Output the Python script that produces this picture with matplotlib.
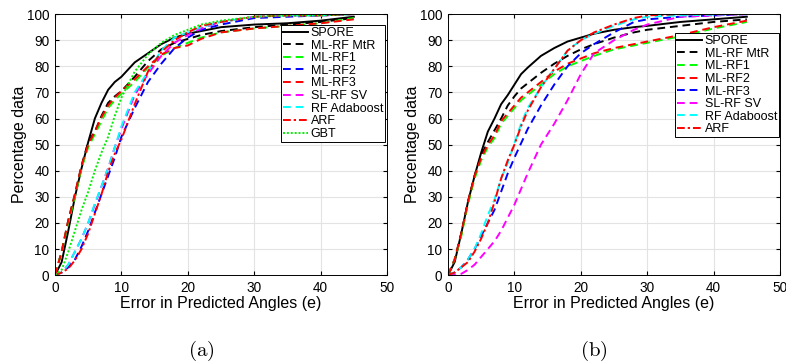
import matplotlib.pyplot as plt
import numpy as np

plt.rcParams['font.family'] = ['Liberation Sans', 'DejaVu Sans']
plt.rcParams['mathtext.fontset'] = 'cm'

# ---- panel (a) data ----
xa = [0, 1, 2, 3, 4, 5, 6, 7, 8, 9, 10, 12, 14, 16, 18, 20, 22, 25, 30, 35, 40, 45]
a_spore = [0, 5, 17, 30, 41, 51, 60, 66, 71, 74, 76, 81.5, 85, 88.5, 91, 92.5, 93.5, 95, 96, 96.5, 97.5, 99]
a_mtr = [0, 9, 21, 31, 42, 51, 55, 61, 66, 68.5, 70.5, 76, 82, 86.5, 89, 90.5, 92, 93.5, 95, 96, 97, 98.5]
a_rf1 = [0, 9, 20, 30, 41, 49, 54, 59, 64, 67, 69.5, 74, 79.5, 84, 87, 89, 91, 93, 94.5, 95.5, 96.5, 98.5]
a_rf2 = [0, 1, 3, 6, 11, 17, 24, 31, 38, 45, 53, 64, 74, 81, 87, 91, 94, 96, 98.5, 99, 99.5, 100]
a_rf3 = [0, 9, 21, 31, 42, 50, 55, 60.5, 65, 68, 70.5, 75, 80, 84.5, 87, 88, 90.5, 93, 94.5, 95.5, 96.5, 98]
a_sv = [0, 1, 4, 9, 14, 20, 27, 34, 41, 49, 56, 69, 77, 84, 89, 92, 94.5, 97, 99, 99.5, 99.5, 100]
a_ada = [0, 1, 4, 9, 14, 20, 27.5, 34, 41, 49, 57, 70, 78, 86, 91, 93, 95, 97, 99, 99.5, 99.5, 100]
a_arf = [0, 1, 2.5, 5.7, 10, 16, 23.5, 31, 39.5, 46.5, 52, 65.5, 78, 85.5, 90, 93, 95.5, 97, 99, 99.5, 99.5, 100]
a_gbt = [0, 2, 9, 17, 25, 32, 40, 47, 53, 61, 68, 78, 84.5, 89, 92, 94, 96, 97.5, 99, 99.5, 99.5, 100]

# ---- panel (b) data ----
xb = [0, 1, 2, 3, 4, 5, 6, 7, 8, 9, 10, 11, 12, 14, 16, 18, 20, 22, 25, 28, 30, 35, 40, 45]
b_spore = [0, 5, 16, 28, 38, 47, 55, 60, 65.5, 69, 73, 77, 79.5, 84, 87, 89.5, 91, 92.5, 94, 95, 95.5, 97, 98, 99]
b_mtr = [0, 6, 16, 28, 38, 46, 51, 55.5, 60, 65, 68.5, 71.5, 73.5, 77.5, 81, 84, 86.5, 88.5, 91, 93, 94, 95.5, 97, 98]
b_rf1 = [0, 6, 15, 27, 37, 44, 49, 52.5, 58, 61, 64, 67, 69, 73, 77, 80, 82, 84, 86.5, 88, 89, 91.5, 94.5, 97]
b_rf2 = [0, 6, 16, 28, 38, 45, 50, 53.5, 59, 62, 65, 68, 70, 74, 78, 81, 83, 85, 87, 88.5, 89.5, 92, 95, 97.5]
b_rf3 = [0, 1, 3, 6, 10, 15, 20, 25, 32, 39, 45, 50.5, 56, 65, 73, 80, 85, 88.5, 93, 97, 98, 99, 99.5, 100]
b_sv = [0, 0.2, 0.5, 2, 4, 7, 10, 13, 17, 22, 27, 33, 39, 50, 58, 67, 77, 85, 90, 94, 96, 99, 99.5, 100]
b_ada = [0, 1, 3, 6, 10, 16, 23, 29, 37, 43, 50.5, 58, 64, 72, 79, 86, 90, 92.5, 95.5, 98, 99, 99.5, 99.8, 100]
b_arf = [0, 1, 3, 5, 9, 14, 20, 28, 37, 44, 50, 57, 63, 72, 79, 86, 90, 93, 96, 98.5, 99.5, 100, 100, 100]

dash = (0, (4, 2.5))
dashdot = (0, (4, 1.5, 1.2, 1.5))

series_a = [
    (a_spore, 'black', '-', 'SPORE'),
    (a_mtr, 'black', dash, 'ML-RF MtR'),
    (a_rf1, '#00ff00', dash, 'ML-RF1'),
    (a_rf2, '#0000ff', dash, 'ML-RF2'),
    (a_rf3, '#ff0000', dash, 'ML-RF3'),
    (a_sv, '#ff00ff', dash, 'SL-RF SV'),
    (a_ada, '#00ffff', dash, 'RF Adaboost'),
    (a_arf, '#ff0000', dashdot, 'ARF'),
    (a_gbt, '#00ee00', (0, (1, 1)), 'GBT'),
]
series_b = [
    (b_spore, 'black', '-', 'SPORE'),
    (b_mtr, 'black', dash, 'ML-RF MtR'),
    (b_rf1, '#00ff00', dash, 'ML-RF1'),
    (b_rf2, '#ff0000', dash, 'ML-RF2'),
    (b_rf3, '#0000ff', dash, 'ML-RF3'),
    (b_sv, '#ff00ff', dash, 'SL-RF SV'),
    (b_ada, '#00ffff', dash, 'RF Adaboost'),
    (b_arf, '#ff0000', dashdot, 'ARF'),
]

fig = plt.figure(figsize=(7.86, 3.62), dpi=100)
ax1 = fig.add_axes([0.070, 0.240, 0.4224, 0.721])
ax2 = fig.add_axes([0.570, 0.240, 0.4224, 0.721])

panels = [(ax1, xa, series_a, '(a)', (0.994, 0.958)),
          (ax2, xb, series_b, '(b)', (0.997, 0.927))]
for ax, x, series, cap, anchor in panels:
    for y, c, ls, lab in series:
        ax.plot(x, y, color=c, linestyle=ls, linewidth=1.4, label=lab)
    ax.set_xlim(0, 50)
    ax.set_ylim(0, 100)
    ax.set_xticks(np.arange(0, 51, 10))
    ax.set_yticks(np.arange(0, 101, 10))
    ax.grid(True, color='#e3e3e3', linewidth=0.8)
    ax.set_axisbelow(True)
    ax.tick_params(direction='in', top=True, right=True, labelsize=9.8, length=3, pad=4)
    for s in ax.spines.values():
        s.set_linewidth(0.7)
    ax.set_xlabel('Error in Predicted Angles (e)', fontsize=11.5, labelpad=1)
    ax.set_ylabel('Percentage data', fontsize=11.5, labelpad=0)
    leg = ax.legend(loc='upper right', bbox_to_anchor=anchor, fontsize=9, handlelength=2.0,
                    handletextpad=0.2, labelspacing=0.05, borderpad=0.15, borderaxespad=0,
                    fancybox=False, framealpha=1, edgecolor='black')
    leg.get_frame().set_linewidth(0.7)
    ax.text(0.44, -0.29, r'$\mathrm{' + cap + '}$', transform=ax.transAxes,
            ha='center', va='center', fontsize=15)

fig.savefig('out.png', dpi=100)
